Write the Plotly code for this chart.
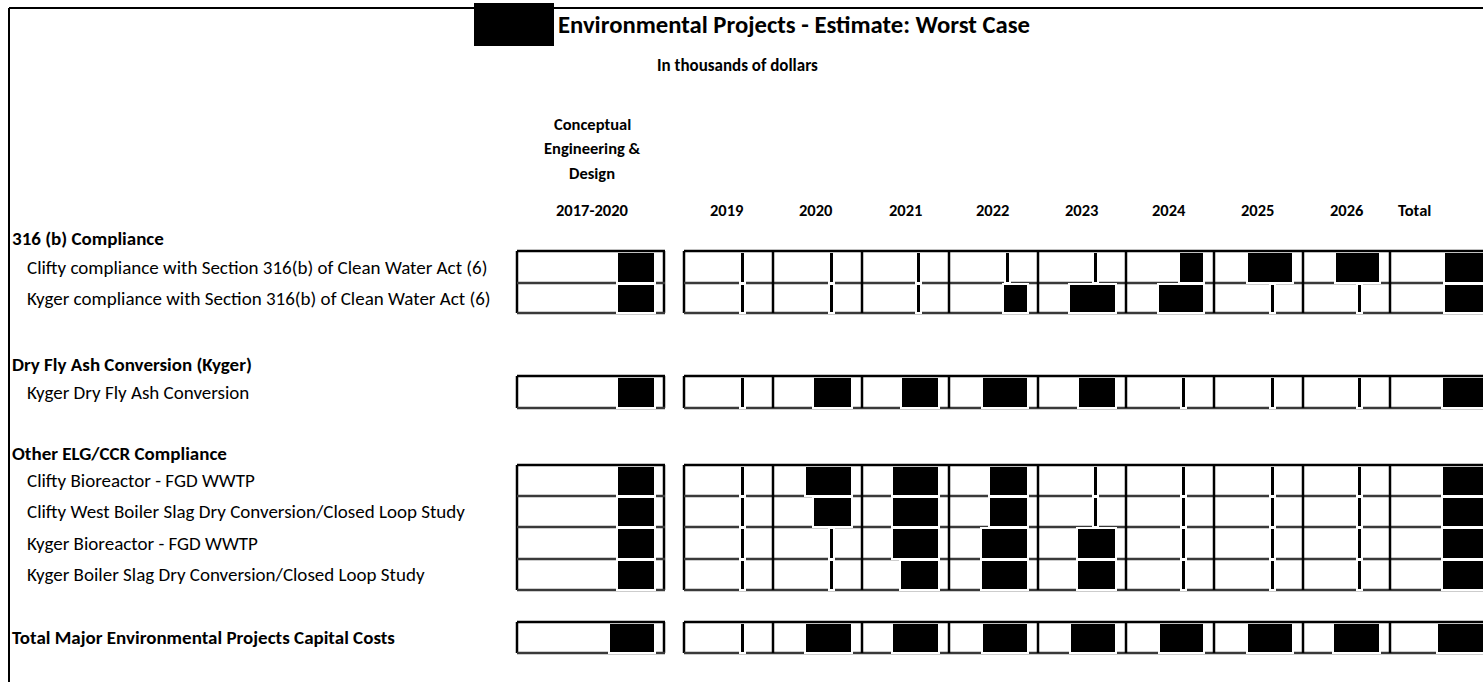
import plotly.graph_objects as go

# ---------------- data ----------------
columns = ["2017-2020", "2019", "2020", "2021", "2022", "2023", "2024", "2025", "2026", "Total"]
year_labels = ["2019", "2020", "2021", "2022", "2023", "2024", "2025", "2026", "Total"]
concept_header = ["Conceptual", "Engineering &", "Design", "2017-2020"]

title = "Environmental Projects - Estimate: Worst Case"
subtitle = "In thousands of dollars"

sections = ["316 (b) Compliance", "Dry Fly Ash Conversion (Kyger)", "Other ELG/CCR Compliance"]
row_labels = [
    "Clifty compliance with Section 316(b) of Clean Water Act (6)",
    "Kyger compliance with Section 316(b) of Clean Water Act (6)",
    "Kyger Dry Fly Ash Conversion",
    "Clifty Bioreactor - FGD WWTP",
    "Clifty West Boiler Slag Dry Conversion/Closed Loop Study",
    "Kyger Bioreactor - FGD WWTP",
    "Kyger Boiler Slag Dry Conversion/Closed Loop Study",
]
total_label = "Total Major Environmental Projects Capital Costs"

# Redacted amounts: width of the blacked-out figure ("D" = redacted dash)
D = "D"
clifty_316b   = [38, D, D, D, D, D, 25, 46, 45, 41]
kyger_316b    = [38, D, D, D, 25, 47, 46, D, D, 41]
kyger_dry_ash = [38, D, 39, 38, 46, 38, D, D, D, 43]
clifty_bio    = [38, D, 47, 47, 39, D, D, D, D, 43]
clifty_slag   = [38, D, 39, 47, 39, D, D, D, D, 43]
kyger_bio     = [38, D, D, 47, 47, 39, D, D, D, 43]
kyger_slag    = [38, D, D, 39, 47, 39, D, D, D, 43]
total_costs   = [46, D, 47, 47, 46, 46, 45, 46, 47, 48]
redactions = [clifty_316b, kyger_316b, kyger_dry_ash, clifty_bio,
              clifty_slag, kyger_bio, kyger_slag, total_costs]

# ---------------- layout geometry ----------------
W, H = 1483, 682
FONT = "Carlito, 'Liberation Sans Narrow', 'Arial Narrow', Calibri, sans-serif"
concept_block = (517, 665)
concept_right = 655
right_block = (684, W + 2)
col_starts = [684, 773, 862, 949, 1038, 1126, 1214, 1303, 1390]
bands = [(251, 283), (283, 313), (376, 408), (465, 496), (496, 527),
         (527, 559), (559, 590), (622, 653)]
groups = [[0, 1], [2], [3, 4, 5, 6], [7]]
section_y = [238, 364, 453]

shapes = []
def line(x0, y0, x1, y1, color="black", w=2, layer="below"):
    shapes.append(dict(type="line", xref="x", yref="y", x0=x0, y0=y0, x1=x1, y1=y1,
                       line=dict(color=color, width=w), layer=layer))

# page frame
line(9, 8, W, 8, w=2)
line(9, 8, 9, H, w=2)

# table grid
for g in groups:
    top = bands[g[0]][0]
    bot = bands[g[-1]][1]
    for (bx0, bx1) in (concept_block, right_block):
        line(bx0, top, bx1, top, w=2.5, layer="above")
        line(bx0, top, bx0, bot, w=2.5)
        line(bx1 - 1, top, bx1 - 1, bot, w=2.5)
        for r in g:
            line(bx0, bands[r][1], bx1, bands[r][1], color="#3a3a3a", w=2.5)
    for cs in col_starts[1:]:
        line(cs, top, cs, bot, w=2.5)

# redaction boxes from the data
bx, bbase, by, bw = [], [], [], []
for r, vals in enumerate(redactions):
    y0, y1 = bands[r]
    for c, v in enumerate(vals):
        if c == 0:
            right = concept_right
        else:
            k = c - 1
            nxt = col_starts[k + 1] if k + 1 < len(col_starts) else W + 10
            if v == D:
                right = nxt - 28
            else:
                right = nxt - 10 if k + 1 < len(col_starts) else W + 2
        width = 5 if v == D else v
        bx.append(width)
        bbase.append(right - width)
        by.append((y0 + y1) / 2)
        bw.append(y1 - y0 - 1)

fig = go.Figure()
fig.add_trace(go.Bar(orientation="h", x=bx, base=bbase, y=by, width=bw,
                     marker=dict(color="black", line=dict(color="white", width=2)),
                     hoverinfo="skip", showlegend=False))

# title redaction box
shapes.append(dict(type="rect", xref="x", yref="y", x0=474, x1=554, y0=3, y1=46,
                   fillcolor="black", line=dict(width=0), layer="above"))

ann = []
def text(x, y, s, size, bold=False, anchor="left"):
    ann.append(dict(x=x, y=y, xref="x", yref="y", text=f"<b>{s}</b>" if bold else s,
                    showarrow=False, xanchor=anchor, yanchor="middle",
                    font=dict(family=FONT, size=size, color="black")))

text(556, 24, title, 24.7, bold=True)
text(737, 65, subtitle, 17, bold=True, anchor="center")
for i, s in enumerate(concept_header):
    text(592, [124, 148, 173, 210][i], s, 16.5, bold=True, anchor="center")
for k, s in enumerate(year_labels):
    if s == "Total":
        text(1396, 210, s, 16.5, bold=True)
    else:
        text(col_starts[k] + 62, 210, s, 16.5, bold=True, anchor="right")
for i, s in enumerate(sections):
    text(10, section_y[i], s, 19, bold=True)
for r, s in enumerate(row_labels):
    y0, y1 = bands[r]
    text(25, (y0 + y1) / 2, s, 19)
y0, y1 = bands[7]
text(10, (y0 + y1) / 2, total_label, 19, bold=True)

fig.update_layout(
    width=W, height=H, margin=dict(l=0, r=0, t=0, b=0),
    paper_bgcolor="white", plot_bgcolor="white",
    xaxis=dict(range=[0, W], visible=False, fixedrange=True),
    yaxis=dict(range=[H, 0], visible=False, fixedrange=True),
    barmode="overlay", bargap=0,
    shapes=shapes, annotations=ann,
)
fig.write_html("out.html", config={"displayModeBar": False},
               post_script="document.body.style.margin='0';document.body.style.overflow='hidden';")
